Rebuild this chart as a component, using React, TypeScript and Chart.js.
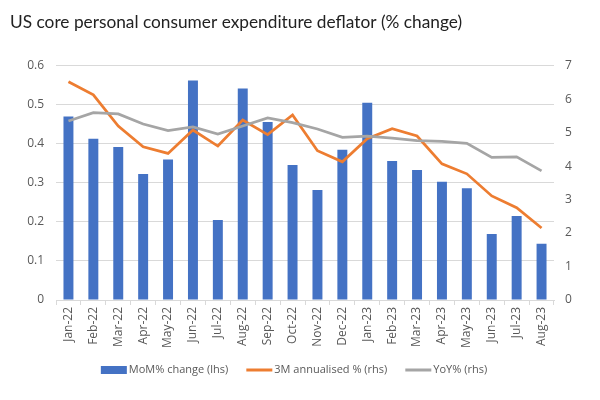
import React, { useEffect, useRef } from "react";
import { Chart, registerables } from "chart.js";

Chart.register(...registerables);

const chartTitle = "US core personal consumer expenditure deflator (% change)";
const categories = [
  "Jan-22", "Feb-22", "Mar-22", "Apr-22", "May-22", "Jun-22", "Jul-22", "Aug-22", "Sep-22", "Oct-22",
  "Nov-22", "Dec-22", "Jan-23", "Feb-23", "Mar-23", "Apr-23", "May-23", "Jun-23", "Jul-23", "Aug-23",
];
const seriesLabels = ["MoM% change (lhs)", "3M annualised % (rhs)", "YoY% (rhs)"];
const momChange = [
  0.47, 0.413, 0.392, 0.323, 0.36, 0.562, 0.205, 0.542, 0.456, 0.346,
  0.282, 0.385, 0.505, 0.356, 0.333, 0.303, 0.286, 0.169, 0.215, 0.144,
];
const annualised3m = [
  6.52, 6.13, 5.2, 4.58, 4.38, 5.08, 4.6, 5.38, 4.94, 5.53,
  4.46, 4.13, 4.82, 5.12, 4.9, 4.07, 3.77, 3.11, 2.76, 2.15,
];
const yoy = [
  5.35, 5.6, 5.56, 5.26, 5.06, 5.17, 4.96, 5.2, 5.44, 5.3,
  5.11, 4.86, 4.9, 4.84, 4.76, 4.74, 4.68, 4.26, 4.28, 3.86,
];
const leftTickLabels = ["0", "0.1", "0.2", "0.3", "0.4", "0.5", "0.6"];
const rightTickLabels = ["0", "1", "2", "3", "4", "5", "6", "7"];

const FONT = "'Open Sans', sans-serif";
const TEXT = "#595959";
const GRID = "#d9d9d9";

const legendPlugin = {
  id: "customLegend",
  afterDraw(chart: any) {
    const ctx = chart.ctx as CanvasRenderingContext2D;
    const ds = chart.data.datasets;
    ctx.save();
    ctx.font = `11px ${FONT}`;
    ctx.textBaseline = "middle";
    const boxW = 26;
    const gapText = 2;
    const gapItem = 18;
    const widths = ds.map((d: any) => boxW + gapText + ctx.measureText(d.label).width);
    const total = widths.reduce((a: number, b: number) => a + b, 0) + gapItem * (ds.length - 1);
    let x = chart.width / 2 - 6 - total / 2;
    const y = chart.height - 30;
    ds.forEach((d: any, i: number) => {
      if (d.type === "line") {
        ctx.strokeStyle = d.borderColor;
        ctx.lineWidth = 3;
        ctx.beginPath();
        ctx.moveTo(x, y);
        ctx.lineTo(x + boxW, y);
        ctx.stroke();
      } else {
        ctx.fillStyle = d.backgroundColor;
        ctx.fillRect(x, y - 4, boxW, 8);
      }
      ctx.fillStyle = TEXT;
      ctx.fillText(d.label, x + boxW + gapText, y);
      x += widths[i] + gapItem;
    });
    ctx.restore();
  },
};

export default function App() {
  const ref = useRef<HTMLCanvasElement | null>(null);

  useEffect(() => {
    document.body.style.margin = "0";
    if (!ref.current) return;
    const chart = new Chart(ref.current, {
      type: "bar",
      data: {
        labels: categories,
        datasets: [
          {
            type: "bar",
            label: seriesLabels[0],
            data: momChange,
            yAxisID: "yL",
            backgroundColor: "#4472c4",
            barPercentage: 0.4,
            categoryPercentage: 1,
            order: 2,
          },
          {
            type: "line",
            label: seriesLabels[1],
            data: annualised3m,
            yAxisID: "yR",
            borderColor: "#ed7d31",
            backgroundColor: "#ed7d31",
            borderWidth: 2.75,
            pointRadius: 0,
            tension: 0,
            order: 1,
          },
          {
            type: "line",
            label: seriesLabels[2],
            data: yoy,
            yAxisID: "yR",
            borderColor: "#a5a5a5",
            backgroundColor: "#a5a5a5",
            borderWidth: 2.75,
            pointRadius: 0,
            tension: 0,
            order: 0,
          },
        ] as any,
      },
      options: {
        animation: false,
        responsive: false,
        layout: { padding: { left: 10, right: 0, top: 0, bottom: 45 } },
        plugins: {
          legend: { display: false },
          tooltip: { enabled: false },
          title: {
            display: true,
            text: chartTitle,
            align: "start",
            color: "#222222",
            font: { family: "Lato, sans-serif", size: 17.3, weight: "normal" },
            padding: { top: 12, bottom: 33 },
          },
        },
        scales: {
          x: {
            offset: true,
            grid: {
              offset: true,
              drawOnChartArea: false,
              drawTicks: true,
              tickLength: 5,
              color: GRID,
            },
            border: { color: GRID },
            ticks: {
              minRotation: 90,
              maxRotation: 90,
              autoSkip: false,
              color: TEXT,
              font: { family: FONT, size: 12 },
              padding: 2,
            },
            afterFit: (s: any) => {
              s.height = 55;
            },
          },
          yL: {
            position: "left",
            min: 0,
            max: 0.6,
            ticks: {
              stepSize: 0.1,
              color: TEXT,
              font: { family: FONT, size: 12 },
              padding: 12,
              callback: (_v: any, i: number) => leftTickLabels[i],
            },
            grid: { color: GRID, drawTicks: false },
            border: { display: false },
            afterFit: (s: any) => {
              s.width = 46;
            },
          },
          yR: {
            position: "right",
            min: 0,
            max: 7,
            ticks: {
              stepSize: 1,
              color: TEXT,
              font: { family: FONT, size: 12 },
              padding: 11,
              callback: (_v: any, i: number) => rightTickLabels[i],
            },
            grid: { drawOnChartArea: false, drawTicks: false },
            border: { display: false },
            afterFit: (s: any) => {
              s.width = 46;
            },
          },
        },
      } as any,
      plugins: [legendPlugin],
    });
    return () => chart.destroy();
  }, []);

  return (
    <div style={{ width: 600, height: 400, background: "#ffffff" }}>
      <canvas ref={ref} width={600} height={400} />
    </div>
  );
}
